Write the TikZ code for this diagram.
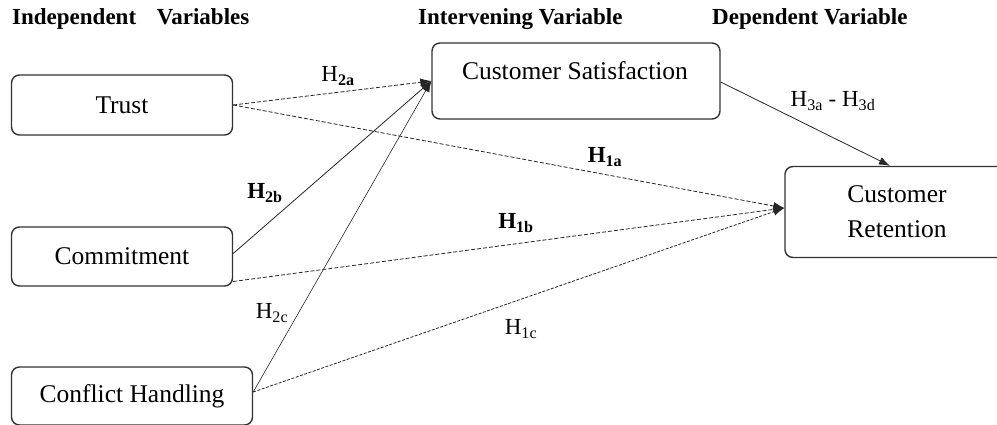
\documentclass[tikz,border=0pt]{standalone}
\usepackage{fontspec}
\setmainfont{Liberation Serif}
\usetikzlibrary{arrows.meta}
\begin{document}
\begin{tikzpicture}[x=1pt,y=-1pt,
  box/.style={draw=black!80,line width=1.4pt,rounded corners=8pt,inner sep=0pt,font=\fontsize{25.5}{27}\selectfont},
  hdr/.style={font=\bfseries\fontsize{23}{24}\selectfont,anchor=base west,inner sep=0pt},
  lbl/.style={font=\fontsize{23}{24}\selectfont,inner sep=0pt},
  blbl/.style={lbl,font=\bfseries\fontsize{23}{24}\selectfont},
  arr/.style={line width=0.8pt,black!85,-{Latex[length=11pt,width=8pt]}},
  dsh/.style={arr,dash pattern=on 4pt off 2pt}]
\useasboundingbox (0,0) rectangle (997,425);
\node[hdr] (h1) at (12,25) {Independent\hspace{0.9em}Variables};
\node[hdr] (h2) at (418,25) {Intervening Variable};
\node[hdr] (h3) at (712,25) {Dependent Variable};
\node[box,minimum width=221pt,minimum height=60pt] (trust) at (122,105) {Trust};
\node[box,minimum width=221pt,minimum height=59pt] (comm) at (122,256.5) {Commitment};
\node[box,minimum width=241pt,minimum height=58pt] (conf) at (132,396) {Conflict Handling};
\node[box,minimum width=288pt,minimum height=76pt] (cs) at (576,81) {};
\node[font=\fontsize{25.5}{27}\selectfont,inner sep=0pt,anchor=base] (cst) at (575,80) {Customer Satisfaction};
\node[box,minimum width=224pt,minimum height=91pt,align=center,font=\fontsize{25.5}{35}\selectfont] (cr) at (897,212) {Customer\\Retention};
\coordinate (crin) at ([yshift=4pt]cr.west);
\coordinate (crtop) at ([xshift=-7pt]cr.north);
\draw[dsh] (trust.east) -- (cs.west);
\draw[dsh] (trust.east) -- (crin);
\draw[arr] ([yshift=3pt]comm.east) -- (cs.west);
\draw[dsh] ([yshift=-25pt]comm.east) -- (crin);
\draw[arr,line width=0.6pt] ([yshift=4pt]conf.east) -- (cs.west);
\draw[dsh,dash pattern=on 3pt off 1.5pt] ([yshift=4pt]conf.east) -- (crin);
\draw[arr] ([yshift=-1pt]cs.east) -- (crtop);
\node[lbl] (l2a) at (338,76) {H\textsubscript{\textbf{2a}}};
\node[lbl] (l3) at (833,101) {H\textsubscript{3a} - H\textsubscript{3d}};
\node[blbl] (l1a) at (605,157) {H\textsubscript{1a}};
\node[blbl] (l1b) at (516,223) {H\textsubscript{1b}};
\node[blbl] (l2b) at (265,193) {H\textsubscript{2b}};
\node[lbl] (l2c) at (272,313) {H\textsubscript{2c}};
\node[lbl] (l1c) at (521,329) {H\textsubscript{1c}};
\end{tikzpicture}
\end{document}
